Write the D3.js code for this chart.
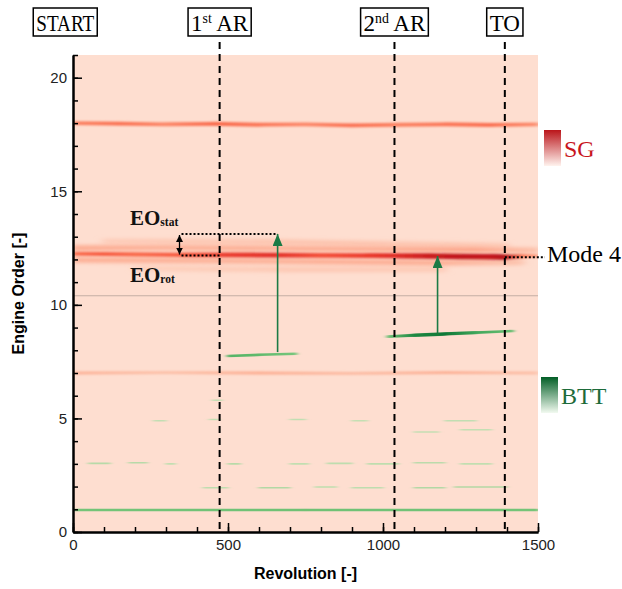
<!DOCTYPE html>
<meta charset="utf-8">
<script src="https://d3js.org/d3.v7.min.js"></script>
<style>
  body { margin: 0; background: #fff; }
  text { font-family: "Liberation Sans", Arial, sans-serif; }
  .serif { font-family: "Liberation Serif", "Times New Roman", serif; }
</style>
<div id="my_dataviz"></div>
<script>

// ---- data ----
var revTicks = [0, 500, 1000, 1500];
var eoTicks = [0, 5, 10, 15, 20];

var eventNames = ["START", "1st AR", "2nd AR", "TO"];
var eventRevs = [-25, 473, 1037, 1393];

// strain gauge ridges: [revolution, engine order, intensity 0..1]
var sgEO18 = [[0,18.0,.42],[150,17.98,.5],[300,17.95,.4],[450,17.97,.52],[600,17.93,.48],[750,17.95,.4],[900,17.9,.5],[1050,17.93,.42],[1200,17.95,.48],[1350,17.92,.5],[1500,17.95,.38]];
var sgMode4 = [[0,12.25,.5],[100,12.24,.58],[200,12.22,.52],[350,12.2,.58],[500,12.2,.7],[650,12.19,.76],[800,12.18,.62],[950,12.17,.7],[1050,12.16,.78],[1150,12.15,.88],[1250,12.13,.92],[1350,12.12,.9],[1393,12.1,.98],[1450,12.15,.42],[1500,12.15,.32]];
var sgMode4Upper = [[0,12.5,.32],[300,12.52,.28],[700,12.48,.3],[1000,12.45,.3],[1300,12.42,.35],[1500,12.4,.2]];
var sgMode4Upper2 = [[100,12.8,.14],[600,12.78,.18],[1000,12.7,.18],[1400,12.62,.14]];
var sgMode4Lower = [[0,11.98,.3],[400,11.95,.28],[800,11.9,.3],[1200,11.85,.3],[1450,11.88,.2]];
var sgMode4Lower2 = [[200,11.6,.12],[700,11.55,.16],[1200,11.55,.14]];
var sgEO7 = [[0,7.0,.22],[300,7.02,.16],[600,7.0,.24],[900,6.98,.18],[1200,7.02,.24],[1500,7.0,.16]];
var sgSide = [sgMode4Upper2, sgMode4Upper, sgMode4Lower2, sgMode4Lower];
var sgMain = [sgEO18, sgMode4, sgEO7];

// blade tip timing ridges
var bttEO1 = [[0,0.97,.32],[750,0.97,.34],[1500,0.97,.32]];
var bttAR1 = [[500,7.75,.45],[600,7.8,.4],[720,7.85,.3]];
var bttAR2 = [[1016,8.6,.35],[1100,8.66,.75],[1200,8.72,.85],[1300,8.78,.55],[1419,8.85,.35]];
var bttRidges = [bttEO1, bttAR1, bttAR2];

// faint BTT dashes: [rev start, rev end, engine order, intensity]
var bttDashes = [
  [50,120,3.02,.12],[180,240,3.05,.12],[300,330,3.0,.06],[500,540,3.0,.12],[700,760,3.0,.06],[820,900,3.02,.08],[950,1050,3.0,.08],[1100,1200,3.05,.1],[1250,1350,3.0,.06],
  [420,500,1.95,.08],[600,700,1.95,.15],[780,850,1.98,.08],[900,1000,1.95,.08],[1100,1200,1.95,.15],[1230,1400,1.98,.15],
  [260,300,4.9,.05],[440,470,4.95,.05],[700,750,4.95,.05],[900,950,4.9,.04],[1200,1300,4.9,.05],
  [1100,1180,4.4,.04],[1250,1350,4.5,.04],[450,480,5.8,.05]
];

var grayLineEO = 10.4;

// annotations
var eoStat = 13.12, eoRot = 12.17, annotRev = 350;
var arrow1 = {rev: 660, from: 7.92, to: 13.12};
var arrow2 = {rev: 1176, from: 8.75, to: 12.15};
var mode4 = {rev: 1393, eo: 12.1};

// ---- layout ----
var W = 622, H = 589;
var svg = d3.select("#my_dataviz").append("svg")
  .attr("width", W).attr("height", H);

var x = d3.scaleLinear().domain([0, 1500]).range([73, 538]);
var y = d3.scaleLinear().domain([0, 21]).range([532, 55]);

var sgColor = function(i) { return d3.interpolateReds(0.12 + 0.72 * i); };
var bttColor = function(i) { return d3.interpolateGreens(0.3 + 0.62 * i); };

var defs = svg.append("defs");

function makeBlur(id, sd) {
  defs.append("filter").attr("id", id)
    .attr("filterUnits", "userSpaceOnUse")
    .attr("x", 0).attr("y", 0).attr("width", W).attr("height", H)
    .append("feGaussianBlur").attr("stdDeviation", sd);
}
makeBlur("blur", "3 1.0");
makeBlur("blurWide", "4 2.2");
makeBlur("blurSoft", "2 0.5");

// background
svg.append("rect")
  .attr("x", x(0)).attr("y", y(21))
  .attr("width", x(1500) - x(0)).attr("height", y(0) - y(21))
  .attr("fill", sgColor(0));

defs.append("clipPath").attr("id", "plotclip")
  .append("rect")
  .attr("x", x(0)).attr("y", y(21))
  .attr("width", x(1500) - x(0)).attr("height", y(0) - y(21));

var plot = svg.append("g").attr("clip-path", "url(#plotclip)");

var gradId = 0;
function drawRidge(g, pts, colorFn, widthFn, filter) {
  var layer = g.append("g").attr("filter", filter);
  for (var k = 0; k < pts.length - 1; k++) {
    var a = pts[k], b = pts[k + 1];
    var id = "rg" + (gradId++);
    var gr = defs.append("linearGradient").attr("id", id)
      .attr("gradientUnits", "userSpaceOnUse")
      .attr("x1", x(a[0])).attr("x2", x(b[0])).attr("y1", 0).attr("y2", 0);
    gr.append("stop").attr("offset", 0).attr("stop-color", colorFn(a[2]));
    gr.append("stop").attr("offset", 1).attr("stop-color", colorFn(b[2]));
    layer.append("line")
      .attr("x1", x(a[0])).attr("y1", y(a[1]))
      .attr("x2", x(b[0])).attr("y2", y(b[1]))
      .attr("stroke", "url(#" + id + ")")
      .attr("stroke-width", widthFn((a[2] + b[2]) / 2))
      .attr("stroke-linecap", "round");
  }
}

sgSide.forEach(function(r) {
  drawRidge(plot, r, sgColor, function(i) { return 3 + 4 * i; }, "url(#blurWide)");
});
sgMain.forEach(function(r) {
  drawRidge(plot, r, sgColor, function(i) { return 2 + 4 * i; }, "url(#blur)");
});

// gray reference line
plot.append("line")
  .attr("x1", x(0)).attr("x2", x(1500))
  .attr("y1", y(grayLineEO)).attr("y2", y(grayLineEO))
  .attr("stroke", "#c4aea4").attr("stroke-width", 1.2);

// faint BTT dashes
plot.append("g").attr("filter", "url(#blurSoft)")
  .selectAll("line").data(bttDashes).enter().append("line")
    .attr("x1", function(d) { return x(d[0]); })
    .attr("x2", function(d) { return x(d[1]); })
    .attr("y1", function(d) { return y(d[2]); })
    .attr("y2", function(d) { return y(d[2]); })
    .attr("stroke", function(d) { return bttColor(d[3]); })
    .attr("stroke-opacity", 0.75)
    .attr("stroke-width", 1.6)
    .attr("stroke-linecap", "round");

bttRidges.forEach(function(r) {
  drawRidge(plot, r, bttColor, function(i) { return 1.6 + 2.4 * i; }, "url(#blurSoft)");
});

// axes
var xAxis = svg.append("g")
  .attr("transform", "translate(0," + y(0) + ")");
xAxis.append("g")
  .call(d3.axisBottom(x).ticks(15).tickSizeInner(-5).tickSizeOuter(0).tickFormat(""));
xAxis.append("g")
  .call(d3.axisBottom(x).tickValues(revTicks).tickSizeInner(-9).tickSizeOuter(0)
    .tickPadding(7).tickFormat(d3.format("d")));

var yAxis = svg.append("g")
  .attr("transform", "translate(" + x(0) + ",0)");
yAxis.append("g")
  .call(d3.axisLeft(y).ticks(21).tickSizeInner(-5).tickSizeOuter(0).tickFormat(""));
yAxis.append("g")
  .call(d3.axisLeft(y).tickValues(eoTicks).tickSizeInner(-9).tickSizeOuter(0)
    .tickPadding(6).tickFormat(d3.format("d")));

svg.selectAll(".domain").attr("stroke", "#000").attr("stroke-width", 2);
svg.selectAll(".tick line").attr("stroke", "#000").attr("stroke-width", 1.5);
svg.selectAll(".tick text").attr("font-size", 15).attr("fill", "#222")
  .attr("font-family", "'Liberation Sans', Arial, sans-serif");

svg.append("text")
  .attr("x", (x(0) + x(1500)) / 2).attr("y", 579)
  .attr("text-anchor", "middle")
  .attr("font-size", 16).attr("font-weight", "bold")
  .text("Revolution [-]");

svg.append("text")
  .attr("transform", "translate(24," + ((y(0) + y(21)) / 2) + ") rotate(-90)")
  .attr("text-anchor", "middle")
  .attr("font-size", 16).attr("font-weight", "bold")
  .text("Engine Order [-]");

// dashed event lines
svg.append("g").selectAll("line").data(eventRevs.slice(1)).enter().append("line")
  .attr("x1", function(d) { return x(d); }).attr("x2", function(d) { return x(d); })
  .attr("y1", 42).attr("y2", y(0))
  .attr("stroke", "#000").attr("stroke-width", 2)
  .attr("stroke-dasharray", "7,5");

// event boxes
function richLabel(g, str, size) {
  var t = g.append("text").attr("class", "serif").attr("font-size", size).attr("fill", "#000");
  var m = str.match(/^(\d)(st|nd)(.*)$/);
  if (m) {
    t.append("tspan").text(m[1]);
    t.append("tspan").attr("font-size", size * 0.6).attr("dy", -8).text(m[2]);
    t.append("tspan").attr("dy", 8).text(m[3]);
  } else {
    t.text(str);
  }
  return t;
}

eventNames.forEach(function(name, i) {
  var g = svg.append("g");
  var t = richLabel(g, name, 23);
  if (name === "START") t.attr("textLength", 58).attr("lengthAdjust", "spacingAndGlyphs");
  var w = t.node().getComputedTextLength();
  var cx = x(eventRevs[i]);
  t.attr("x", cx - w / 2).attr("y", 31);
  g.insert("rect", "text")
    .attr("x", cx - w / 2 - 3).attr("y", 8)
    .attr("width", w + 6).attr("height", 28)
    .attr("fill", "#fff").attr("stroke", "#000").attr("stroke-width", 1.5);
});

// arrow markers
defs.append("marker").attr("id", "greenHead")
  .attr("markerUnits", "userSpaceOnUse")
  .attr("viewBox", "0 0 12 10").attr("refX", 12).attr("refY", 5)
  .attr("markerWidth", 12).attr("markerHeight", 10).attr("orient", "auto")
  .append("path").attr("d", "M0,0 L12,5 L0,10 z").attr("fill", "#1b7a45");

defs.append("marker").attr("id", "blackHead")
  .attr("markerUnits", "userSpaceOnUse")
  .attr("viewBox", "0 0 8 8").attr("refX", 8).attr("refY", 4)
  .attr("markerWidth", 7).attr("markerHeight", 7).attr("orient", "auto-start-reverse")
  .append("path").attr("d", "M0,0 L8,4 L0,8 z").attr("fill", "#000");

// dotted EO lines
svg.append("line")
  .attr("x1", x(annotRev)).attr("x2", x(arrow1.rev))
  .attr("y1", y(eoStat)).attr("y2", y(eoStat))
  .attr("stroke", "#000").attr("stroke-width", 2).attr("stroke-dasharray", "2,2");
svg.append("line")
  .attr("x1", x(annotRev)).attr("x2", x(eventRevs[1]))
  .attr("y1", y(eoRot)).attr("y2", y(eoRot))
  .attr("stroke", "#000").attr("stroke-width", 2).attr("stroke-dasharray", "2,2");

svg.append("line")
  .attr("x1", x(annotRev) - 2).attr("x2", x(annotRev) - 2)
  .attr("y1", y(eoStat) + 1).attr("y2", y(eoRot) - 1)
  .attr("stroke", "#000").attr("stroke-width", 1.3)
  .attr("marker-start", "url(#blackHead)").attr("marker-end", "url(#blackHead)");

// green arrows
[arrow1, arrow2].forEach(function(a) {
  svg.append("line")
    .attr("x1", x(a.rev)).attr("x2", x(a.rev))
    .attr("y1", y(a.from)).attr("y2", y(a.to))
    .attr("stroke", "#1b7a45").attr("stroke-width", 1.6)
    .attr("marker-end", "url(#greenHead)");
});

// EO labels
function eoLabel(sub, yy) {
  var t = svg.append("text").attr("class", "serif")
    .attr("x", 130).attr("y", yy)
    .attr("font-size", 21).attr("font-weight", "bold").attr("fill", "#111");
  t.append("tspan").text("EO");
  t.append("tspan").attr("font-size", 11.5).attr("dy", 1).text(sub);
}
eoLabel("stat", 225);
eoLabel("rot", 282);

// Mode 4
svg.append("line")
  .attr("x1", x(mode4.rev)).attr("x2", 545)
  .attr("y1", y(mode4.eo)).attr("y2", y(mode4.eo))
  .attr("stroke", "#000").attr("stroke-width", 2).attr("stroke-dasharray", "2,2");
svg.append("text").attr("class", "serif")
  .attr("x", 547).attr("y", 262)
  .attr("font-size", 24).attr("fill", "#000")
  .text("Mode 4");

// legends
function legend(id, x0, y0, top, bottom, label, textColor) {
  var gr = defs.append("linearGradient").attr("id", id)
    .attr("x1", 0).attr("x2", 0).attr("y1", 0).attr("y2", 1);
  gr.append("stop").attr("offset", 0).attr("stop-color", top);
  gr.append("stop").attr("offset", 0.55).attr("stop-color", d3.interpolateRgb(top, bottom)(0.55));
  gr.append("stop").attr("offset", 1).attr("stop-color", bottom);
  svg.append("rect").attr("x", x0).attr("y", y0).attr("width", 17).attr("height", 36)
    .attr("fill", "url(#" + id + ")");
  svg.append("text").attr("class", "serif")
    .attr("x", x0 + 20).attr("y", y0 + 27)
    .attr("font-size", 24).attr("fill", textColor)
    .text(label);
}
legend("sgLeg", 544, 130, sgColor(0.95), "#fff3ee", "SG", "#c8161d");
legend("bttLeg", 541, 377, bttColor(1), "#f2faf0", "BTT", "#1d6b3a");

</script>
